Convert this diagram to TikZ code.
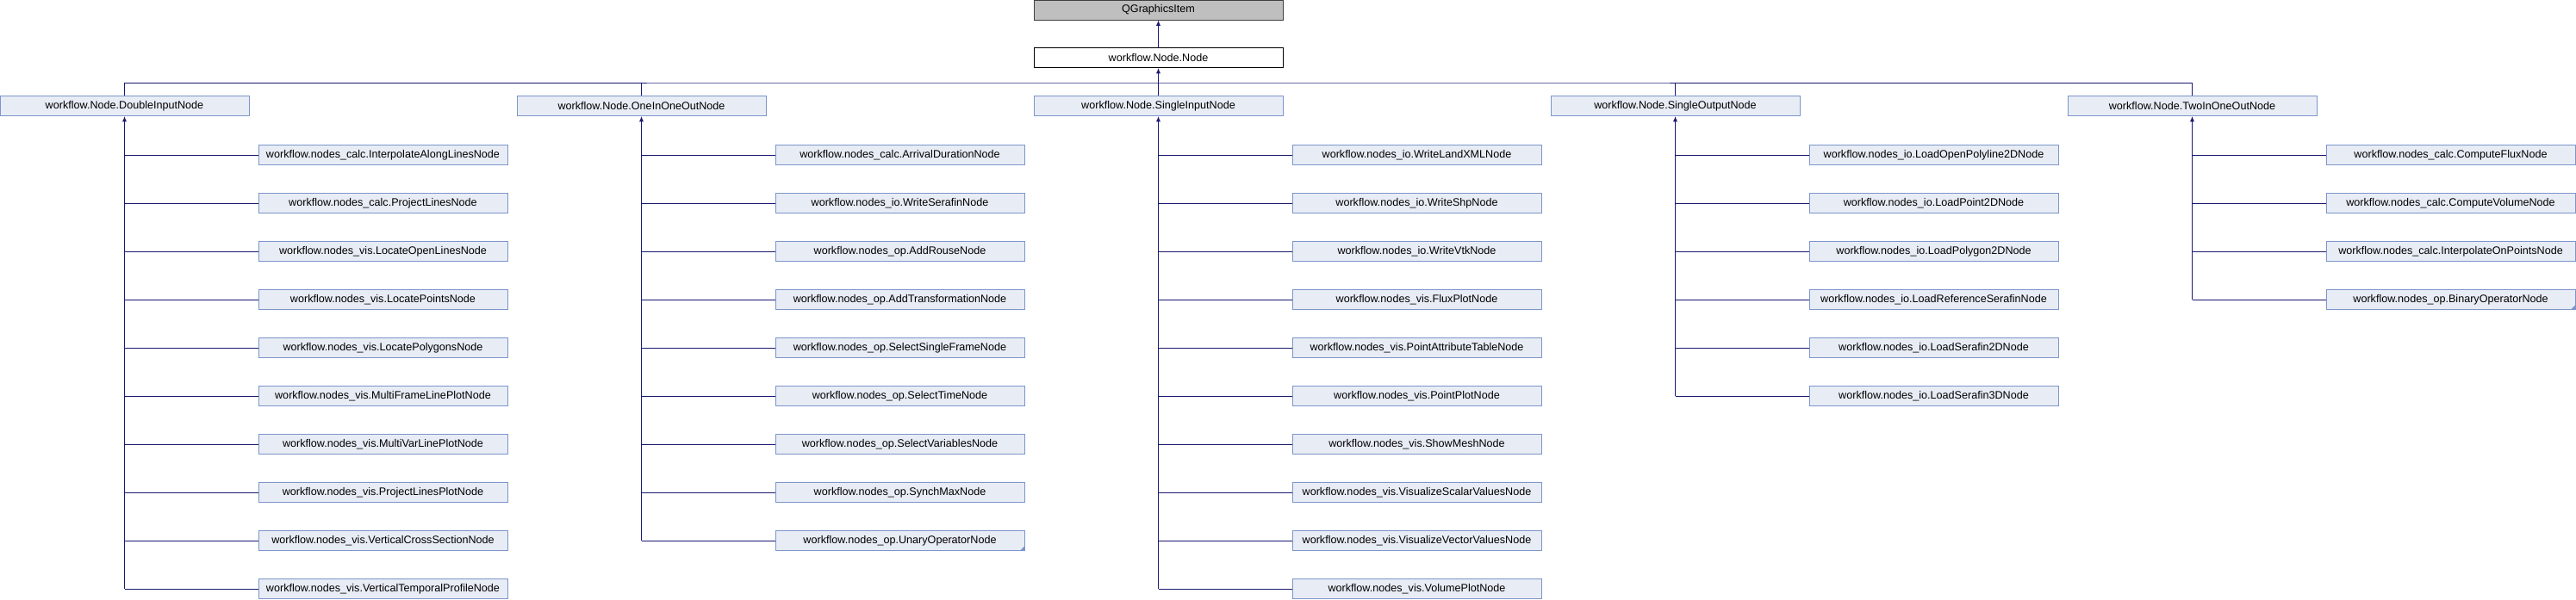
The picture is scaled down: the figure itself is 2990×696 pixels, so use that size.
\documentclass[tikz,border=0pt]{standalone}
\usepackage{fontspec}
\setmainfont{Liberation Sans}
\usetikzlibrary{arrows.meta}
\definecolor{edgeblue}{HTML}{191970}
\definecolor{boxborder}{HTML}{7C95CA}
\definecolor{boxfill}{HTML}{E8ECF5}
\definecolor{topfill}{HTML}{BFBFBF}
\definecolor{topborder}{HTML}{404040}
\newcommand{\mkchildren}[2]{%
  \foreach \nm [count=\k from 0] in {#2}{
    \node[cls] (c#1-\k) at ({300+600*#1+144.5},{180+56*\k}) {\nm};
    \draw[edge] (c#1-\k.west) -- (c#1-\k.west -| g#1.south);
  }}
\begin{document}
\begin{tikzpicture}[x=0.5pt,y=-0.5pt,
  cls/.style={draw=boxborder,fill=boxfill,minimum width=144.5pt,minimum height=11.5pt,
    inner sep=0pt,line width=0.5pt,font=\fontsize{6.3}{7}\selectfont},
  edge/.style={draw=edgeblue,line width=0.5pt},
  arr/.style={edge,-{Latex[length=3.2pt,width=2.6pt]}},
  more/.style={fill=boxborder}]
\useasboundingbox (0,0) rectangle (2990,696);

\node[cls,fill=topfill,draw=topborder] (qgi) at (1344.5,11.5) {QGraphicsItem};
\node[cls,fill=white,draw=black] (node) at (1344.5,67) {workflow.Node.Node};
\draw[arr] (node.north) -- (qgi.south);

\node[cls] (g0) at (144.5,123) {workflow.Node.DoubleInputNode};
\node[cls] (g1) at (744.5,123) {workflow.Node.OneInOneOutNode};
\node[cls] (g2) at (1344.5,123) {workflow.Node.SingleInputNode};
\node[cls] (g3) at (1944.5,123) {workflow.Node.SingleOutputNode};
\node[cls] (g4) at (2544.5,123) {workflow.Node.TwoInOneOutNode};

\coordinate (bus) at (1344.5,96);
\draw[edge] (g0.north) |- (bus) -| (g4.north);
\draw[edge] (g1.north) -- (g1.north |- bus);
\draw[edge] (g3.north) -- (g3.north |- bus);
\draw[edge] (g2.north) -- (bus);
\draw[arr] (bus) -- (node.south);

\mkchildren{0}{workflow.nodes\_calc.InterpolateAlongLinesNode,
  workflow.nodes\_calc.ProjectLinesNode,
  workflow.nodes\_vis.LocateOpenLinesNode,
  workflow.nodes\_vis.LocatePointsNode,
  workflow.nodes\_vis.LocatePolygonsNode,
  workflow.nodes\_vis.MultiFrameLinePlotNode,
  workflow.nodes\_vis.MultiVarLinePlotNode,
  workflow.nodes\_vis.ProjectLinesPlotNode,
  workflow.nodes\_vis.VerticalCrossSectionNode,
  workflow.nodes\_vis.VerticalTemporalProfileNode}
\mkchildren{1}{workflow.nodes\_calc.ArrivalDurationNode,
  workflow.nodes\_io.WriteSerafinNode,
  workflow.nodes\_op.AddRouseNode,
  workflow.nodes\_op.AddTransformationNode,
  workflow.nodes\_op.SelectSingleFrameNode,
  workflow.nodes\_op.SelectTimeNode,
  workflow.nodes\_op.SelectVariablesNode,
  workflow.nodes\_op.SynchMaxNode,
  workflow.nodes\_op.UnaryOperatorNode}
\mkchildren{2}{workflow.nodes\_io.WriteLandXMLNode,
  workflow.nodes\_io.WriteShpNode,
  workflow.nodes\_io.WriteVtkNode,
  workflow.nodes\_vis.FluxPlotNode,
  workflow.nodes\_vis.PointAttributeTableNode,
  workflow.nodes\_vis.PointPlotNode,
  workflow.nodes\_vis.ShowMeshNode,
  workflow.nodes\_vis.VisualizeScalarValuesNode,
  workflow.nodes\_vis.VisualizeVectorValuesNode,
  workflow.nodes\_vis.VolumePlotNode}
\mkchildren{3}{workflow.nodes\_io.LoadOpenPolyline2DNode,
  workflow.nodes\_io.LoadPoint2DNode,
  workflow.nodes\_io.LoadPolygon2DNode,
  workflow.nodes\_io.LoadReferenceSerafinNode,
  workflow.nodes\_io.LoadSerafin2DNode,
  workflow.nodes\_io.LoadSerafin3DNode}
\mkchildren{4}{workflow.nodes\_calc.ComputeFluxNode,
  workflow.nodes\_calc.ComputeVolumeNode,
  workflow.nodes\_calc.InterpolateOnPointsNode,
  workflow.nodes\_op.BinaryOperatorNode}

\draw[arr] (c0-9.west -| g0.south) -- (g0.south);
\draw[arr] (c1-8.west -| g1.south) -- (g1.south);
\draw[arr] (c2-9.west -| g2.south) -- (g2.south);
\draw[arr] (c3-5.west -| g3.south) -- (g3.south);
\draw[arr] (c4-3.west -| g4.south) -- (g4.south);

\fill[more] (c1-8.south east) -- ++(-6,0) -- ++(6,-6) -- cycle;
\fill[more] (c4-3.south east) -- ++(-6,0) -- ++(6,-6) -- cycle;
\end{tikzpicture}
\end{document}
